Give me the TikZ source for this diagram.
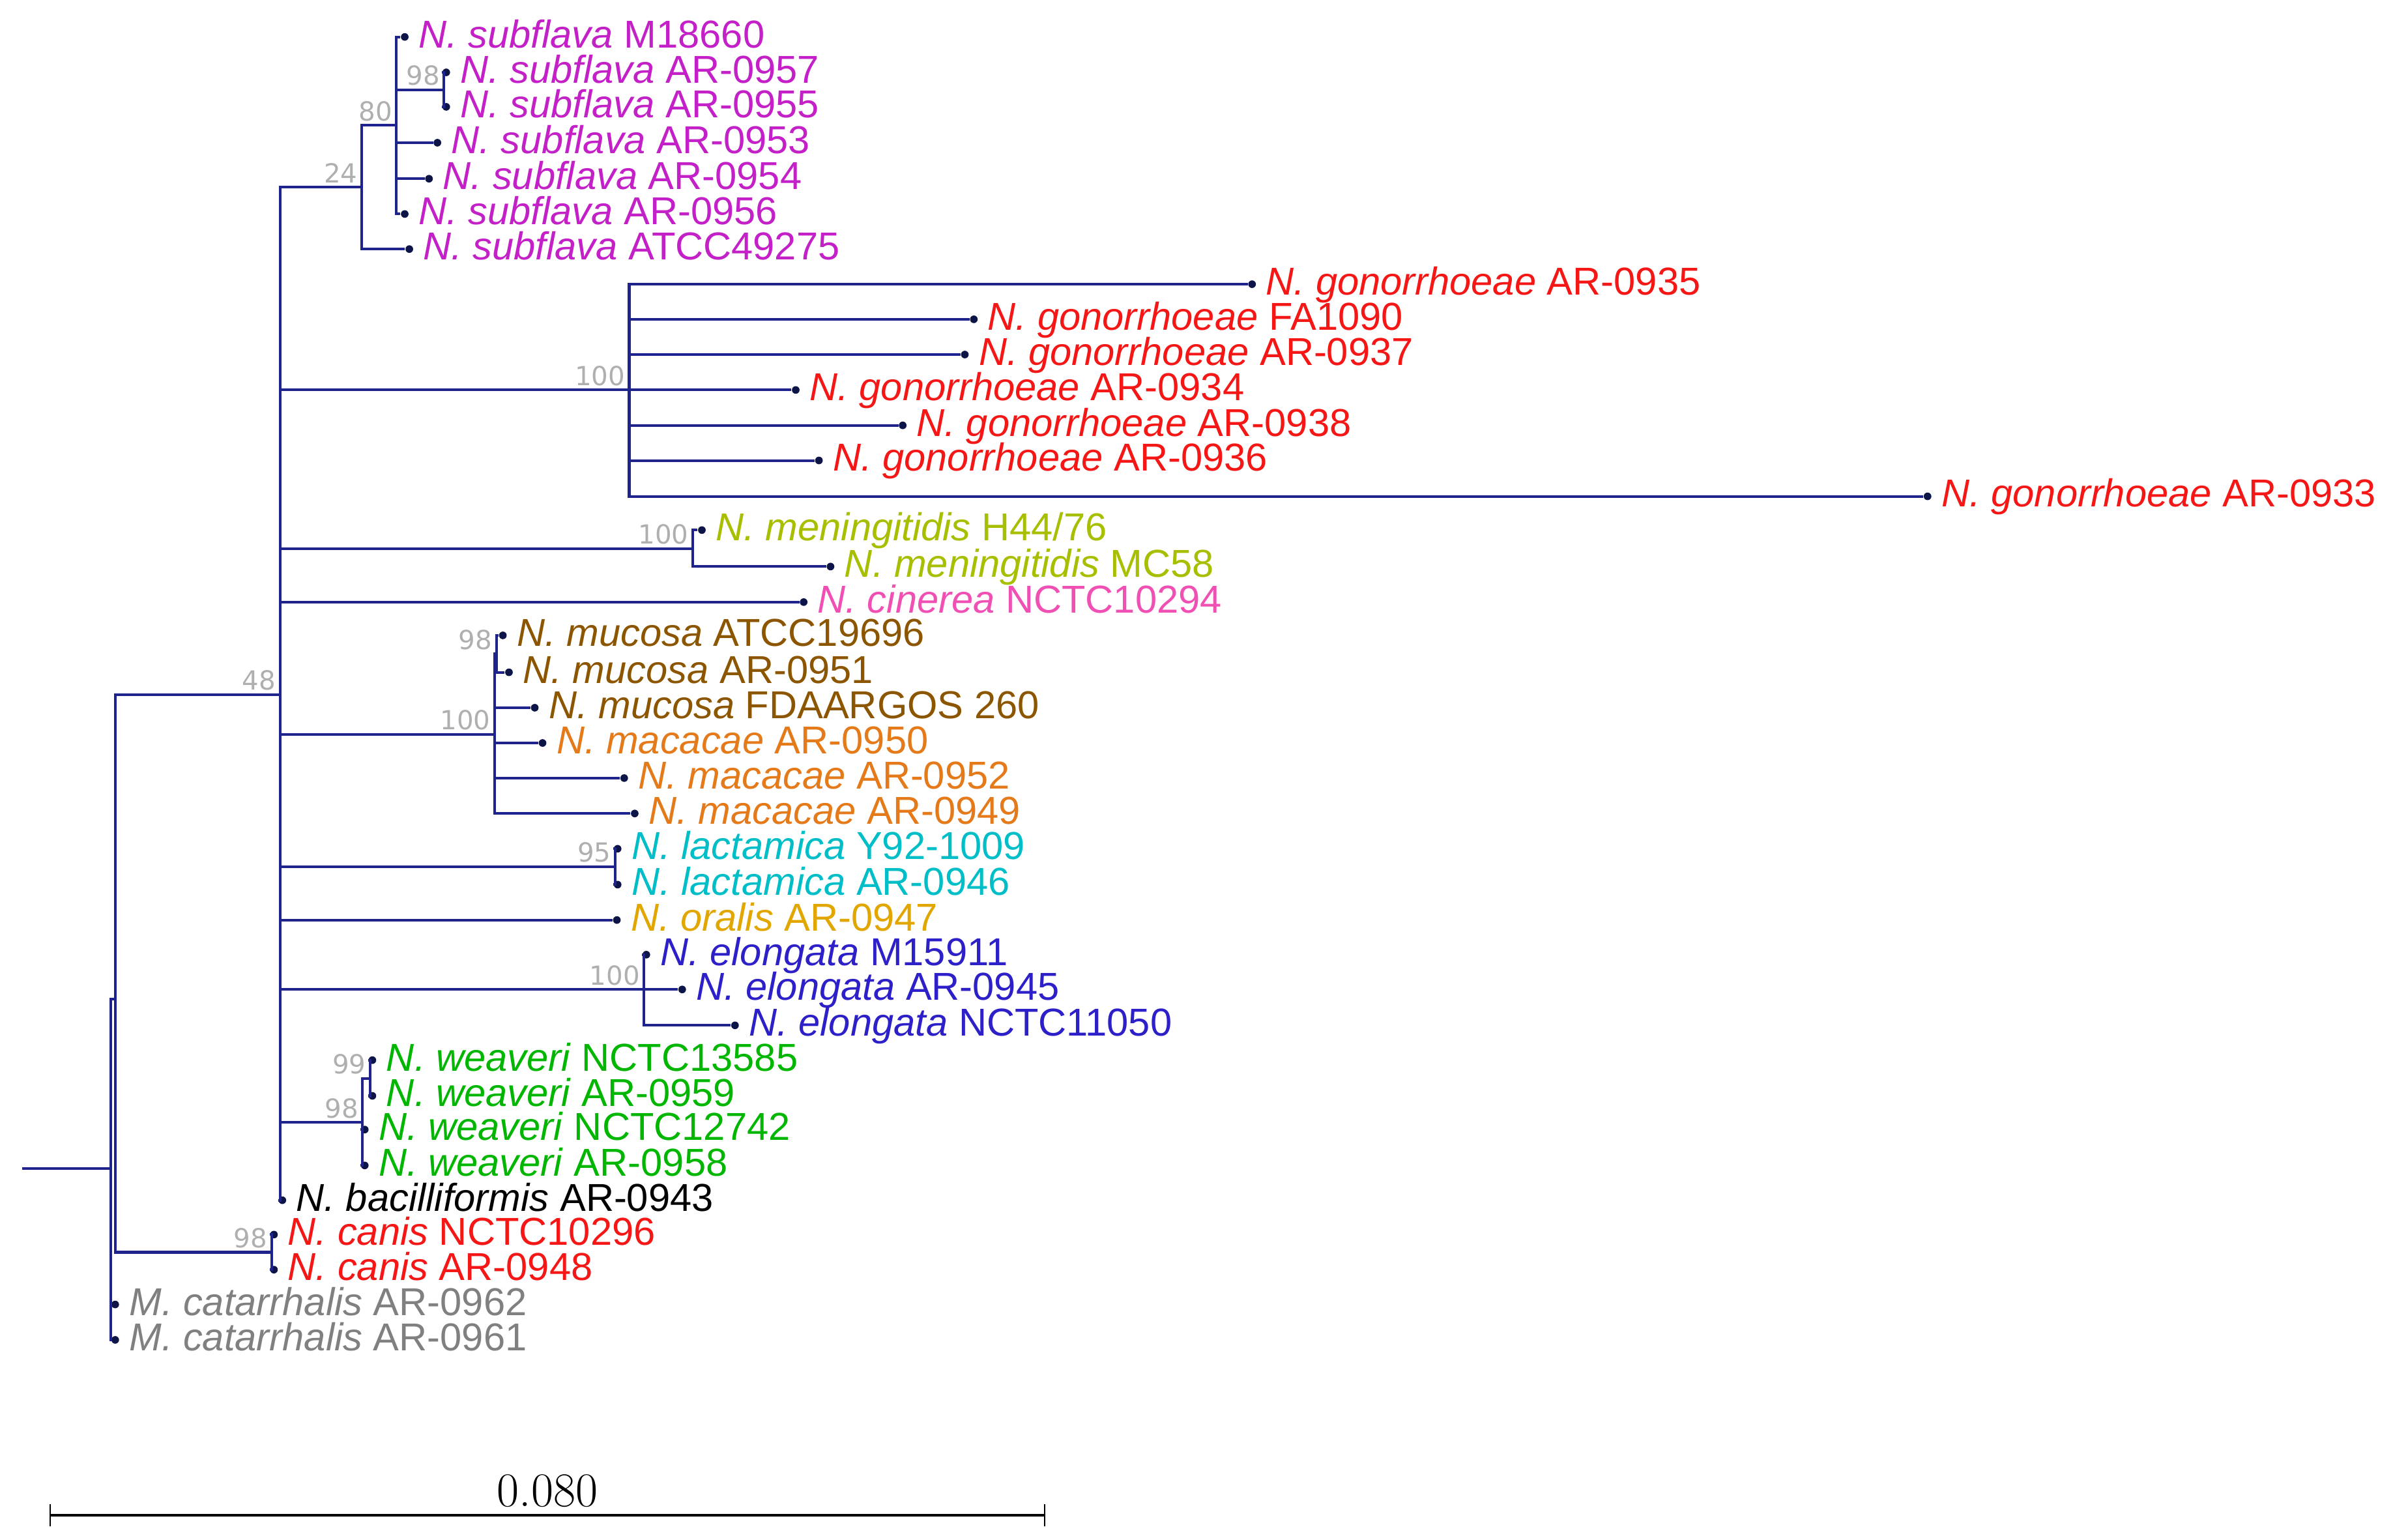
\documentclass[tikz,border=0pt]{standalone}
\usepackage{fontspec}
\newfontfamily\taxfont{Liberation Sans}
\newfontfamily\bootfont{DejaVu Sans}
\usepackage{xcolor}
\usepackage{tikz}
\usetikzlibrary{positioning,arrows.meta}
\definecolor{phyblue}{RGB}{30,36,140}
\definecolor{phynavy}{RGB}{12,20,72}
\definecolor{phyboot}{RGB}{175,175,175}
\definecolor{phymagenta}{RGB}{195,32,200}
\definecolor{phyred}{RGB}{245,22,22}
\definecolor{phyolive}{RGB}{168,190,0}
\definecolor{phypink}{RGB}{240,80,180}
\definecolor{phybrown}{RGB}{140,85,0}
\definecolor{phyorange}{RGB}{228,122,26}
\definecolor{phycyan}{RGB}{0,190,200}
\definecolor{phygold}{RGB}{226,166,0}
\definecolor{phyindigo}{RGB}{45,32,200}
\definecolor{phygreen}{RGB}{0,182,0}
\definecolor{phygray}{RGB}{128,128,128}

\begin{document}
\begin{tikzpicture}[
        x=0.02cm, y=-0.02cm,
        every node/.style={font=\taxfont\fontsize{14.5}{17}\selectfont},
        branch/.style={draw=phyblue, line width=1pt},
        tip/.style={circle, fill=phynavy, inner sep=0pt, minimum size=0.1cm},
        taxon/.style={anchor=base west, inner sep=0pt, yshift=-0.14cm},
        boot/.style={anchor=south east, inner sep=1.4pt, text=phyboot, font=\bootfont\fontsize{9.8}{12}\selectfont},
        scalelabel/.style={font=\rmfamily\fontsize{18}{20}\selectfont, inner sep=0pt}
    ]
        \useasboundingbox (0,0) rectangle (1568,1009);

        % internal nodes
        \coordinate (rootstub) at (14.7,765.6);
        \coordinate (root) at (72.5,765.6);
        \coordinate (nei) at (75.5,654.6);
        \coordinate (cat) at (72.5,866.3);
        \coordinate (main) at (183.5,455);
        \coordinate (can) at (178,820.5);
        \coordinate (sub24) at (237,122.7);
        \coordinate (sub80) at (259.8,82.1);
        \coordinate (sub98) at (290.9,58.8);
        \coordinate (gon) at (412.3,255.5);
        \coordinate (men) at (453.9,359.4);
        \coordinate (muc) at (324.1,481.1);
        \coordinate (muc98) at (325.2,428.4);
        \coordinate (lac) at (403.2,567.9);
        \coordinate (elo) at (422,648.3);
        \coordinate (wea) at (237.6,735.4);
        \coordinate (wea99) at (242.5,706.7);

        % leaves
        \node[tip] (sub60) at (265.2,24.2) {};
        \node[tip] (sub57) at (292.4,47.4) {};
        \node[tip] (sub55) at (292.4,70.0) {};
        \node[tip] (sub53) at (286.6,93.5) {};
        \node[tip] (sub54) at (281.1,117.1) {};
        \node[tip] (sub56) at (265.2,140.2) {};
        \node[tip] (sub75) at (268.2,163.2) {};
        \node[tip] (gon35) at (820.4,186.2) {};
        \node[tip] (gon90) at (638.1,209.2) {};
        \node[tip] (gon37) at (632.2,232.3) {};
        \node[tip] (gon34) at (521.4,255.5) {};
        \node[tip] (gon38) at (591.5,278.7) {};
        \node[tip] (gon36) at (536.6,301.7) {};
        \node[tip] (gon33) at (1263,325.2) {};
        \node[tip] (men76) at (459.9,347.3) {};
        \node[tip] (men58) at (544.2,371.2) {};
        \node[tip] (cin94) at (526.6,394.5) {};
        \node[tip] (muc96) at (329.5,416.3) {};
        \node[tip] (muc51) at (333.5,440.5) {};
        \node[tip] (muc60) at (350.4,463.7) {};
        \node[tip] (mac50) at (355.5,486.8) {};
        \node[tip] (mac52) at (409.0,509.8) {};
        \node[tip] (mac49) at (415.9,533.0) {};
        \node[tip] (lac09) at (404.7,556.1) {};
        \node[tip] (lac46) at (404.7,579.6) {};
        \node[tip] (ora47) at (404.2,602.8) {};
        \node[tip] (elo11) at (423.5,625.5) {};
        \node[tip] (elo45) at (447.0,648.3) {};
        \node[tip] (elo50) at (481.6,671.8) {};
        \node[tip] (wea85) at (244,694.6) {};
        \node[tip] (wea59) at (244,718.0) {};
        \node[tip] (wea42) at (239,740.1) {};
        \node[tip] (wea58) at (239,763.6) {};
        \node[tip] (bac43) at (185,786.4) {};
        \node[tip] (can96) at (179.5,808.9) {};
        \node[tip] (can48) at (179.5,831.9) {};
        \node[tip] (cat62) at (75.5,854.7) {};
        \node[tip] (cat61) at (75.5,877.9) {};

        % branches
        \draw[branch] (rootstub) -- (root);
        \draw[branch] (root) |- (nei) (root) |- (cat);
        \draw[branch] (cat) |- (cat62) (cat) |- (cat61);
        \draw[branch] (nei) |- (main) (nei) |- (can);
        \draw[branch] (can) |- (can96) (can) |- (can48);
        \draw[branch] (main) |- (sub24) (main) |- (gon) (main) |- (men) (main) |- (cin94)
            (main) |- (muc) (main) |- (lac) (main) |- (ora47) (main) |- (elo)
            (main) |- (wea) (main) |- (bac43);
        \draw[branch] (sub24) |- (sub80) (sub24) |- (sub75);
        \draw[branch] (sub80) |- (sub60) (sub80) |- (sub98) (sub80) |- (sub53)
            (sub80) |- (sub54) (sub80) |- (sub56);
        \draw[branch] (sub98) |- (sub57) (sub98) |- (sub55);
        \draw[branch] (gon) |- (gon35) (gon) |- (gon90) (gon) |- (gon37) (gon) |- (gon34)
            (gon) |- (gon38) (gon) |- (gon36) (gon) |- (gon33);
        \draw[branch] (men) |- (men76) (men) |- (men58);
        \draw[branch] (muc) |- (muc98) (muc) |- (muc60) (muc) |- (mac50)
            (muc) |- (mac52) (muc) |- (mac49);
        \draw[branch] (muc98) |- (muc96) (muc98) |- (muc51);
        \draw[branch] (lac) |- (lac09) (lac) |- (lac46);
        \draw[branch] (elo) |- (elo11) (elo) |- (elo45) (elo) |- (elo50);
        \draw[branch] (wea) |- (wea99) (wea) |- (wea42) (wea) |- (wea58);
        \draw[branch] (wea99) |- (wea85) (wea99) |- (wea59);

        % bootstrap values
        \node[boot] (bmain) at (main) {48};
        \node[boot] (bcan) at (can) {98};
        \node[boot] (bsub24) at (sub24) {24};
        \node[boot] (bsub80) at (sub80) {80};
        \node[boot] (bsub98) at (sub98) {98};
        \node[boot] (bgon) at (gon) {100};
        \node[boot] (bmen) at (men) {100};
        \node[boot] (bmuc) at (muc) {100};
        \node[boot] (bmuc98) at (muc98) {98};
        \node[boot] (blac) at (lac) {95};
        \node[boot] (belo) at (elo) {100};
        \node[boot] (bwea) at (wea) {98};
        \node[boot] (bwea99) at (wea99) {99};

        % taxa
        \node[right=0.12cm of sub60, taxon, text=phymagenta] (tsub60) {\textit{N. subflava} M18660};
        \node[right=0.12cm of sub57, taxon, text=phymagenta] (tsub57) {\textit{N. subflava} AR-0957};
        \node[right=0.12cm of sub55, taxon, text=phymagenta] (tsub55) {\textit{N. subflava} AR-0955};
        \node[right=0.12cm of sub53, taxon, text=phymagenta] (tsub53) {\textit{N. subflava} AR-0953};
        \node[right=0.12cm of sub54, taxon, text=phymagenta] (tsub54) {\textit{N. subflava} AR-0954};
        \node[right=0.12cm of sub56, taxon, text=phymagenta] (tsub56) {\textit{N. subflava} AR-0956};
        \node[right=0.12cm of sub75, taxon, text=phymagenta] (tsub75) {\textit{N. subflava} ATCC49275};
        \node[right=0.12cm of gon35, taxon, text=phyred] (tgon35) {\textit{N. gonorrhoeae} AR-0935};
        \node[right=0.12cm of gon90, taxon, text=phyred] (tgon90) {\textit{N. gonorrhoeae} FA1090};
        \node[right=0.12cm of gon37, taxon, text=phyred] (tgon37) {\textit{N. gonorrhoeae} AR-0937};
        \node[right=0.12cm of gon34, taxon, text=phyred] (tgon34) {\textit{N. gonorrhoeae} AR-0934};
        \node[right=0.12cm of gon38, taxon, text=phyred] (tgon38) {\textit{N. gonorrhoeae} AR-0938};
        \node[right=0.12cm of gon36, taxon, text=phyred] (tgon36) {\textit{N. gonorrhoeae} AR-0936};
        \node[right=0.12cm of gon33, taxon, text=phyred] (tgon33) {\textit{N. gonorrhoeae} AR-0933};
        \node[right=0.12cm of men76, taxon, text=phyolive] (tmen76) {\textit{N. meningitidis} H44/76};
        \node[right=0.12cm of men58, taxon, text=phyolive] (tmen58) {\textit{N. meningitidis} MC58};
        \node[right=0.12cm of cin94, taxon, text=phypink] (tcin94) {\textit{N. cinerea} NCTC10294};
        \node[right=0.12cm of muc96, taxon, text=phybrown] (tmuc96) {\textit{N. mucosa} ATCC19696};
        \node[right=0.12cm of muc51, taxon, text=phybrown] (tmuc51) {\textit{N. mucosa} AR-0951};
        \node[right=0.12cm of muc60, taxon, text=phybrown] (tmuc60) {\textit{N. mucosa} FDAARGOS 260};
        \node[right=0.12cm of mac50, taxon, text=phyorange] (tmac50) {\textit{N. macacae} AR-0950};
        \node[right=0.12cm of mac52, taxon, text=phyorange] (tmac52) {\textit{N. macacae} AR-0952};
        \node[right=0.12cm of mac49, taxon, text=phyorange] (tmac49) {\textit{N. macacae} AR-0949};
        \node[right=0.12cm of lac09, taxon, text=phycyan] (tlac09) {\textit{N. lactamica} Y92-1009};
        \node[right=0.12cm of lac46, taxon, text=phycyan] (tlac46) {\textit{N. lactamica} AR-0946};
        \node[right=0.12cm of ora47, taxon, text=phygold] (tora47) {\textit{N. oralis} AR-0947};
        \node[right=0.12cm of elo11, taxon, text=phyindigo] (telo11) {\textit{N. elongata} M15911};
        \node[right=0.12cm of elo45, taxon, text=phyindigo] (telo45) {\textit{N. elongata} AR-0945};
        \node[right=0.12cm of elo50, taxon, text=phyindigo] (telo50) {\textit{N. elongata} NCTC11050};
        \node[right=0.12cm of wea85, taxon, text=phygreen] (twea85) {\textit{N. weaveri} NCTC13585};
        \node[right=0.12cm of wea59, taxon, text=phygreen] (twea59) {\textit{N. weaveri} AR-0959};
        \node[right=0.12cm of wea42, taxon, text=phygreen] (twea42) {\textit{N. weaveri} NCTC12742};
        \node[right=0.12cm of wea58, taxon, text=phygreen] (twea58) {\textit{N. weaveri} AR-0958};
        \node[right=0.12cm of bac43, taxon, text=black] (tbac43) {\textit{N. bacilliformis} AR-0943};
        \node[right=0.12cm of can96, taxon, text=phyred] (tcan96) {\textit{N. canis} NCTC10296};
        \node[right=0.12cm of can48, taxon, text=phyred] (tcan48) {\textit{N. canis} AR-0948};
        \node[right=0.12cm of cat62, taxon, text=phygray] (tcat62) {\textit{M. catarrhalis} AR-0962};
        \node[right=0.12cm of cat61, taxon, text=phygray] (tcat61) {\textit{M. catarrhalis} AR-0961};

        % scale bar
        \coordinate (scaleL) at (32.4,992.7);
        \coordinate (scaleR) at (685.1,992.7);
        \draw[black, line width=1.1pt, {Bar[width=0.29cm, line width=0.6pt]}-{Bar[width=0.29cm, line width=0.6pt]}]
            (scaleL) -- node[midway, above=0.08cm, scalelabel] (scaletext) {0.080} (scaleR);
    \end{tikzpicture}
\end{document}
